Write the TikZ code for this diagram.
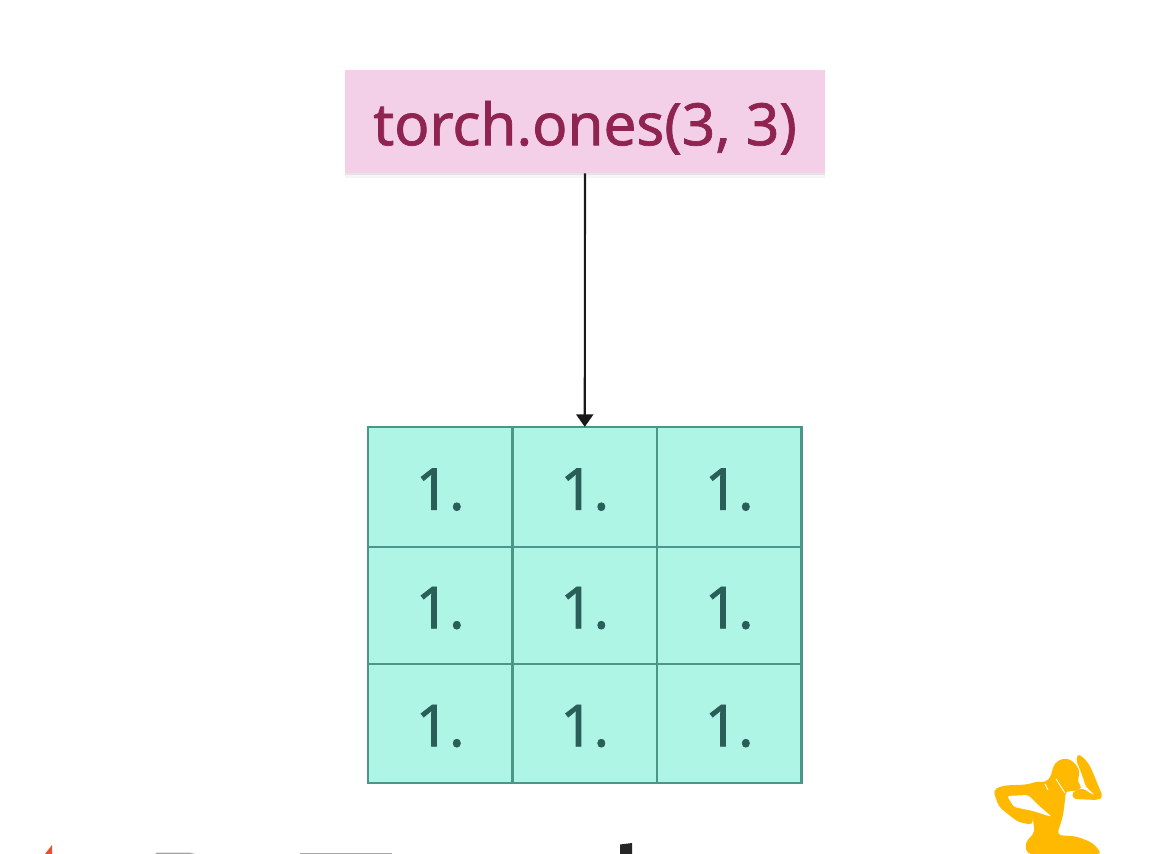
\documentclass[tikz,border=0pt]{standalone}
\usepackage{fontspec}
\setmainfont{Noto Sans}
\newfontfamily\boxfont[FakeBold=1.2]{Noto Sans}
\usetikzlibrary{arrows.meta,shadows}
\definecolor{callfill}{HTML}{F3D0E7}
\definecolor{calltext}{HTML}{8F2451}
\definecolor{cellfill}{HTML}{AEF5E5}
\definecolor{celledge}{HTML}{4A9788}
\definecolor{celltext}{HTML}{2A5F58}
\definecolor{logored}{HTML}{EE4C2C}
\definecolor{logogold}{HTML}{FFB900}
\tikzset{
	callbox/.style={fill=callfill, text=calltext, minimum width=9.6cm, minimum height=2.06cm, text height=30pt, text depth=3pt, font=\boxfont\fontsize{33.2}{40}\selectfont, drop shadow={shadow xshift=0pt, shadow yshift=-0.1cm, opacity=0.08}, drop shadow={shadow xshift=0pt, shadow yshift=-0.05cm, opacity=0.15}},
	cellbox/.style={draw=celledge, line width=1.3pt, fill=cellfill, text=celltext, minimum width=2.89cm, text height=26pt, text depth=0pt, font=\boxfont\fontsize{33}{40}\selectfont},
}

\begin{document}
\begin{tikzpicture}[x=0.02cm, y=-0.02cm]
	\useasboundingbox (0,0) rectangle (1170,854);
	\node[callbox] (call) at (585,121.5) {torch.ones(3, 3)};
	\foreach \r/\y/\h in {1/487/2.4, 2/605.5/2.34, 3/723.5/2.38} {
		\foreach \c/\x in {1/440.25, 2/584.75, 3/729.25} {
			\node[cellbox, minimum height=\h cm] (cell\r\c) at (\x,\y) {1.};
		}
	}
	\draw[-{Triangle[length=0.25cm, width=0.34cm]}, line width=1.2pt, black!90, shorten >=-0.02cm] (call.south) -- (cell12.north);
	% logo pieces cut by the page edge
	\fill[logored] (45,854) -- (52,845) -- (52,854) -- cycle;
	\fill[gray!70] (155,854) -- (157,852.7) -- (190,852.7) -- (195,854) -- cycle;
	\fill[gray!70] (300,852.7) rectangle (392,854);
	\fill[black!85] (620,844.5) -- (632,843) -- (632,854) -- (620,854) -- cycle;
	\fill[logogold, rounded corners=2.5pt] (993,790) -- (1003,785.5) -- (1028,784.5) -- (1038,781) -- (1045,783) -- (1052,775) -- (1052,768) -- (1058,760) -- (1068,758) -- (1077,765) -- (1080,773) -- (1077,782) -- (1083,788) -- (1072,792) -- (1066,790) -- (1065,800) -- (1063,816) -- (1057,835) -- (1077,836.5) -- (1093,843) -- (1102,854) -- (1027,854) -- (1025,843) -- (1035,832) -- (1032,815) -- (1033,825) -- (1018,822) -- (999,807) -- cycle;
	\fill[logogold, rounded corners=2pt] (1078,753.5) -- (1086,760) -- (1091,768) -- (1103,797) -- (1098,800) -- (1073,799) -- (1072,792) -- (1083,788) -- (1088,792) -- (1096,796) -- (1086,787) -- (1081,772) -- (1076,760) -- cycle;
	\fill[white, rounded corners=1.5pt] (1007,796) -- (1028,795) -- (1037,804) -- (1052,817) -- (1033,811) -- (1014,807) -- cycle;
	\draw[white, line width=0.5pt] (1045,784) -- (1048,790);
	\draw[white, line width=0.5pt] (1056,779) -- (1065,793);
\end{tikzpicture}
\end{document}
